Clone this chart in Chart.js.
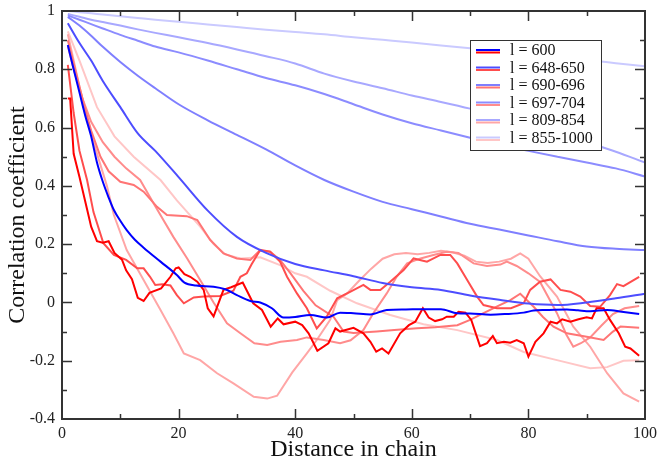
<!DOCTYPE html>
<html>
<head>
<meta charset="utf-8">
<script src="https://cdn.jsdelivr.net/npm/chart.js@4.4.1/dist/chart.umd.min.js"></script>
<style>
  html, body { margin: 0; padding: 0; background: #fff; }
</style>
</head>
<body>
<canvas id="chart" width="657" height="464"></canvas>
<script>
// legend labels, one per chain-length group
const groupLabels = ["l = 600", "l = 648-650", "l = 690-696", "l = 697-704", "l = 809-854", "l = 855-1000"];

// blue curves
const blue600X = [1,2,3,4,5,6,6.9,8,8.9,10,11.1,12.5,14,16.9,19.7,21,23,26,28,30,32.3,34,36,38,40,42.6,45.4,47.7,50,52.9,55.7,59,62,65,67.8,70,73.5,76,79.2,80.9,83,86.6,88.5,90.6,93.5,96,99];
const blue600Y = [0.883,0.8,0.72,0.64,0.57,0.48,0.42,0.36,0.317,0.28,0.248,0.215,0.188,0.14,0.094,0.068,0.058,0.054,0.045,0.025,0.005,0.0,-0.02,-0.052,-0.05,-0.043,-0.052,-0.035,-0.037,-0.041,-0.026,-0.024,-0.023,-0.023,-0.037,-0.038,-0.042,-0.04,-0.035,-0.028,-0.026,-0.024,-0.027,-0.03,-0.026,-0.032,-0.04];
const blueX = [1,3,5,7,10,13,16,20,25,30,35,40,45,50,55,60,65,70,75,80,85,90,95,100];
const blue648Y = [0.958,0.89,0.83,0.76,0.67,0.58,0.52,0.43,0.315,0.225,0.17,0.132,0.11,0.09,0.067,0.052,0.043,0.024,0.009,-0.004,-0.009,0.0,0.014,0.03];
const blue690Y = [0.98,0.95,0.915,0.877,0.825,0.778,0.735,0.68,0.625,0.575,0.525,0.47,0.42,0.38,0.345,0.32,0.295,0.27,0.25,0.23,0.21,0.192,0.184,0.18];
const blue697Y = [0.985,0.97,0.955,0.94,0.918,0.898,0.878,0.858,0.83,0.8,0.77,0.745,0.715,0.68,0.645,0.615,0.59,0.565,0.54,0.52,0.5,0.48,0.46,0.432];
const blue809Y = [0.99,0.98,0.97,0.962,0.95,0.937,0.925,0.91,0.89,0.868,0.845,0.82,0.785,0.758,0.735,0.71,0.688,0.665,0.64,0.612,0.582,0.55,0.517,0.48];
const blue855Y = [1.0,0.996,0.992,0.988,0.982,0.976,0.97,0.963,0.954,0.945,0.936,0.928,0.92,0.91,0.901,0.892,0.882,0.872,0.862,0.852,0.842,0.832,0.821,0.81];

// red curves
const red600X = [1,1.4,2,3,4.3,5,6,7,8,9,10.3,11,12,13,14,15,17,18.6,19.5,20,21,22,23.2,24.3,25,26,27.7,29,31,32.8,34.3,35.8,37,38,40,41.2,42.3,43.8,45.7,46.9,47.7,50,51.7,52.9,53.9,54.9,56,58,59.5,60.6,61.9,62.9,64,65.2,66,67.2,68,69.2,70.2,71.7,72.9,73.9,74.6,75.8,76.9,78,79.2,80,81.2,82.6,83.8,84.9,85.8,87.2,88.6,90,90.9,91.7,92.9,94,95.5,96.6,97.5,99];
const red600Y = [0.70,0.70,0.51,0.43,0.32,0.26,0.21,0.205,0.21,0.17,0.146,0.11,0.08,0.016,0.005,0.033,0.048,0.088,0.117,0.12,0.097,0.088,0.071,0.043,-0.02,-0.048,0.043,0.052,0.068,-0.003,-0.026,-0.083,-0.055,-0.075,-0.066,-0.078,-0.106,-0.166,-0.14,-0.089,-0.1,-0.087,-0.106,-0.135,-0.169,-0.158,-0.175,-0.106,-0.078,-0.066,-0.02,-0.052,-0.064,-0.058,-0.049,-0.049,-0.032,-0.035,-0.06,-0.15,-0.14,-0.115,-0.14,-0.135,-0.138,-0.129,-0.14,-0.186,-0.135,-0.106,-0.066,-0.072,-0.058,-0.066,-0.058,-0.051,-0.055,-0.02,-0.02,-0.06,-0.106,-0.152,-0.158,-0.183];
const red648X = [1,2,3,4.3,5.4,7.1,8.9,11,12.9,14,15.1,16,17.2,18.6,19.7,20.9,22.6,24.3,27.1,29.4,30.6,31.7,32.5,34,35.7,37.4,38.6,40.3,42,43.7,45.4,47.2,49.5,51.7,52.9,54.6,56.3,58.6,60.3,62.6,64.9,66.6,67.8,69.5,71.2,72.3,74.6,77,79.2,80.3,82,83.8,85.5,87.2,88.9,90.6,92.3,94,95.2,96.3,99];
const red648Y = [0.815,0.65,0.52,0.42,0.31,0.203,0.163,0.146,0.117,0.117,0.088,0.06,0.062,0.058,0.025,-0.003,0.017,0.02,0.022,0.04,0.088,0.1,0.13,0.18,0.174,0.14,0.088,0.031,-0.02,-0.089,-0.049,0.014,0.037,0.06,0.043,0.043,0.071,0.111,0.151,0.14,0.163,0.163,0.134,0.077,0.02,-0.009,-0.02,-0.02,-0.003,0.043,0.071,0.079,0.043,0.037,0.02,-0.012,-0.015,0.025,0.063,0.056,0.088];
const red690X = [1,2,3,4,5,6.6,8,10,12.3,14,16.3,18,21.4,23.2,25.4,27.7,30,32.3,33.9,35.7,37.4,39.2,41.4,43.5,46.6,48.3,50,54,57,60.9,64,67.8,70,72.3,75,76.9,78.6,80.9,82.5,84.3,86.6,90,92.9,94.5,95.8,99];
const red690Y = [0.9,0.82,0.74,0.66,0.59,0.5,0.45,0.414,0.403,0.38,0.328,0.3,0.296,0.283,0.215,0.168,0.151,0.146,0.178,0.174,0.146,0.1,0.04,-0.01,-0.05,-0.1,-0.105,-0.1,-0.095,-0.089,-0.085,-0.078,-0.06,-0.037,-0.01,0.008,0.03,-0.015,-0.05,-0.083,-0.106,-0.118,-0.129,-0.1,-0.083,-0.087];
const red697X = [1,2,3.5,5,7,9,11,13.4,16,19.1,21.5,23.7,26,28.3,30.6,33,35.2,37.5,40.3,42,44.9,47.7,49.5,51.7,53.4,55.7,57.4,59.2,61.5,63.7,66,68,70.6,72.9,75.2,76.3,78,80,82,84.9,86.5,87.7,89,90.6,92.5,94.5,96.5,99];
const red697Y = [0.88,0.8,0.7,0.62,0.55,0.5,0.46,0.42,0.33,0.225,0.15,0.077,0.0,-0.072,-0.106,-0.14,-0.146,-0.135,-0.129,-0.12,-0.129,-0.14,-0.13,-0.095,-0.037,0.031,0.088,0.134,0.151,0.163,0.174,0.17,0.134,0.125,0.13,0.14,0.125,0.1,0.07,-0.037,-0.11,-0.152,-0.14,-0.12,-0.08,-0.04,-0.02,-0.012];
const red809X = [1,2,3,4,5.4,7.7,8.9,11.1,14,16.9,19.1,20.9,23.7,26.6,29.4,32.9,35.2,36.9,39.5,42,43.7,46,47.2,48.9,51,53,55,57,59,61,63,65,67,69,71,73,75,77,78.6,80,82,84.9,87.7,90.6,93.5,96.3,99];
const red809Y = [0.92,0.83,0.74,0.66,0.55,0.4,0.3,0.18,0.077,-0.026,-0.106,-0.175,-0.198,-0.243,-0.278,-0.324,-0.33,-0.32,-0.24,-0.175,-0.129,-0.06,0.008,0.031,0.075,0.115,0.15,0.165,0.17,0.165,0.17,0.177,0.172,0.16,0.14,0.135,0.14,0.15,0.168,0.15,0.09,0.02,-0.083,-0.152,-0.243,-0.312,-0.34];
const red855X = [1,3,6,9,12.3,16.9,19.7,23.7,26,28,30.6,34,37.4,40,42,46,50.6,56.3,62,67.8,74.6,79.2,84.9,90.6,93.5,96.3,99];
const red855Y = [0.93,0.83,0.67,0.57,0.5,0.42,0.35,0.26,0.2,0.165,0.151,0.155,0.128,0.1,0.088,0.04,-0.003,-0.043,-0.075,-0.095,-0.129,-0.17,-0.198,-0.226,-0.222,-0.2,-0.198];

const blueColors = ["#0000ff", "#4d4dff", "#7f7fff", "#8c8cff", "#a8a8ff", "#cacaff"];
const redColors  = ["#ff0000", "#ff4d4d", "#ff7575", "#ff8c8c", "#ffa6a6", "#ffc6c6"];

const blueSeries = [
  [blue600X, blue600Y], [blueX, blue648Y], [blueX, blue690Y],
  [blueX, blue697Y], [blueX, blue809Y], [blueX, blue855Y]
];
const redSeries = [
  [red600X, red600Y], [red648X, red648Y], [red690X, red690Y],
  [red697X, red697Y], [red809X, red809Y], [red855X, red855Y]
];

const toPoints = (xs, ys) => xs.map((x, i) => ({ x: x, y: ys[i] }));

const datasets = [];
groupLabels.forEach((label, i) => {
  datasets.push({
    label: label,
    data: toPoints(blueSeries[i][0], blueSeries[i][1]),
    borderColor: blueColors[i],
    borderWidth: 2,
    pointRadius: 0,
    cubicInterpolationMode: "monotone",
  });
  datasets.push({
    label: label,
    data: toPoints(redSeries[i][0], redSeries[i][1]),
    borderColor: redColors[i],
    borderWidth: 2,
    pointRadius: 0,
    tension: 0,
  });
});

const FONT = "'Liberation Serif', 'Times New Roman', serif";

// frame with inward ticks on all four sides
const framePlugin = {
  id: "frame",
  afterDatasetsDraw(chart) {
    const { ctx, chartArea: a, scales } = chart;
    ctx.save();
    ctx.strokeStyle = "#333";
    ctx.lineWidth = 1.5;
    ctx.beginPath();
    for (let v = 10; v < 100; v += 10) {
      const px = Math.round(scales.x.getPixelForValue(v)) + 0.5;
      const len = v % 20 === 0 ? 10 : 5;
      ctx.moveTo(px, a.bottom); ctx.lineTo(px, a.bottom - len);
      ctx.moveTo(px, a.top); ctx.lineTo(px, a.top + len);
    }
    for (let k = -3; k < 10; k++) {
      const v = k / 10;
      const py = Math.round(scales.y.getPixelForValue(v)) + 0.5;
      const len = (k + 10) % 2 === 0 ? 10 : 5;
      ctx.moveTo(a.left, py); ctx.lineTo(a.left + len, py);
      ctx.moveTo(a.right, py); ctx.lineTo(a.right - len, py);
    }
    ctx.stroke();
    ctx.lineWidth = 2;
    ctx.strokeRect(a.left, a.top, a.right - a.left, a.bottom - a.top);
    ctx.restore();
  },
};

// boxed legend, each entry shows the blue and the red line
const legendPlugin = {
  id: "boxLegend",
  afterDraw(chart) {
    const ctx = chart.ctx;
    const left = 470, top = 40, w = 131, h = 110;
    ctx.save();
    ctx.fillStyle = "#fff";
    ctx.fillRect(left, top, w, h);
    ctx.strokeStyle = "#333";
    ctx.lineWidth = 1;
    ctx.strokeRect(left + 0.5, top + 0.5, w, h);
    ctx.font = "16px " + FONT;
    ctx.textBaseline = "middle";
    ctx.fillStyle = "#111";
    groupLabels.forEach((label, i) => {
      const yc = top + 11 + i * 17.5;
      ctx.lineWidth = 2;
      ctx.strokeStyle = blueColors[i];
      ctx.beginPath(); ctx.moveTo(left + 6, yc - 1); ctx.lineTo(left + 30, yc - 1); ctx.stroke();
      ctx.strokeStyle = redColors[i];
      ctx.beginPath(); ctx.moveTo(left + 6, yc + 1.5); ctx.lineTo(left + 30, yc + 1.5); ctx.stroke();
      ctx.fillText(label, left + 40, yc);
    });
    ctx.restore();
  },
};

new Chart(document.getElementById("chart"), {
  type: "line",
  data: { datasets: datasets },
  options: {
    responsive: false,
    animation: false,
    devicePixelRatio: 1,
    layout: { padding: { top: 11, right: 12, left: 0, bottom: 0 } },
    plugins: { legend: { display: false }, tooltip: { enabled: false } },
    scales: {
      x: {
        type: "linear",
        min: 0,
        max: 100,
        grid: { display: false, drawTicks: false },
        border: { display: false },
        ticks: { stepSize: 20, maxRotation: 0, padding: 5, color: "#222", font: { family: FONT, size: 16 } },
        title: { display: true, text: "Distance in chain", color: "#111", padding: { top: 0, bottom: 0 }, font: { family: FONT, size: 24 } },
        afterFit(scale) { scale.height = 45; scale.paddingLeft = 0; scale.paddingRight = 0; },
      },
      y: {
        min: -0.4,
        max: 1,
        grid: { display: false, drawTicks: false },
        border: { display: false },
        ticks: {
          stepSize: 0.2,
          padding: 7,
          color: "#222",
          font: { family: FONT, size: 16 },
          callback: (v) => String(Math.round(v * 10) / 10),
        },
        title: { display: true, text: "Correlation coefficient", color: "#111", padding: { top: 3, bottom: 0 }, font: { family: FONT, size: 24 } },
        afterFit(scale) { scale.width = 62; scale.paddingTop = 0; scale.paddingBottom = 0; },
      },
    },
  },
  plugins: [framePlugin, legendPlugin],
});
</script>
</body>
</html>
